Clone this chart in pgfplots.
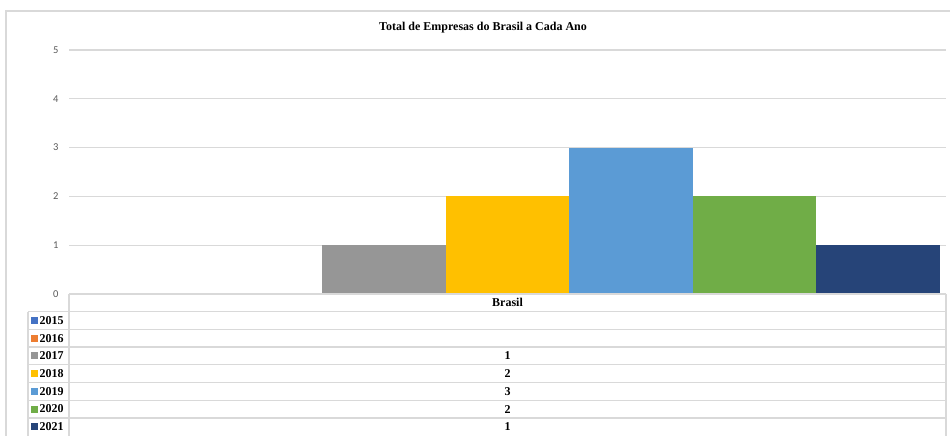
\documentclass[border=0pt]{standalone}
\usepackage{pgfplots}
\pgfplotsset{compat=1.18}
\usepackage{fontspec}
\setmainfont{Liberation Serif}
\newfontfamily\tickfont{Carlito}
\definecolor{gridgray}{HTML}{D9D9D9}
\definecolor{tickgray}{HTML}{595959}
\definecolor{cA}{HTML}{4472C4}
\definecolor{cB}{HTML}{ED7D31}
\definecolor{cC}{HTML}{969696}
\definecolor{cD}{HTML}{FFC000}
\definecolor{cE}{HTML}{5B9BD5}
\definecolor{cF}{HTML}{70AD47}
\definecolor{cG}{HTML}{264478}
\begin{document}
\begin{tikzpicture}
\useasboundingbox (0pt,0pt) rectangle (950pt,436pt);
% outer chart border
\draw[gridgray, line width=1.6pt] (6pt,0pt) -- (6pt,425pt) -- (950pt,425pt);
% title
\node[font=\bfseries\fontsize{12}{14}\selectfont] at (483pt,408pt) {Total de Empresas do Brasil a Cada Ano};
\begin{axis}[
  at={(69pt,142pt)}, anchor=south west,
  scale only axis, width=877pt, height=244pt,
  xmin=0.452, xmax=7.548, ymin=0, ymax=5,
  ytick={0,1,2,3,4,5}, xtick=\empty,
  /pgf/number format/assume math mode=true,
  ymajorgrids, grid style={gridgray, line width=1.2pt},
  axis line style={draw=none},
  major tick length=0pt,
  yticklabel style={font=\tickfont\fontsize{10.5}{12}\selectfont, text=tickgray, xshift=-7pt},
  ybar, bar width=1, bar shift=0pt,
  clip=false,
]
\addplot[fill=cA, draw=none] coordinates {(1,0)};
\addplot[fill=cB, draw=none] coordinates {(2,0)};
\addplot[fill=cC, draw=none] coordinates {(3,1)};
\addplot[fill=cD, draw=none] coordinates {(4,2)};
\addplot[fill=cE, draw=none] coordinates {(5,3)};
\addplot[fill=cF, draw=none] coordinates {(6,2)};
\addplot[fill=cG, draw=none] coordinates {(7,1)};
\end{axis}
% data table
\begin{scope}[gridgray, line width=1.3pt]
\draw (69pt,142pt) -- (946pt,142pt);
\foreach \yy in {124.3,106.6,88.9,71.2,53.5,35.8,18.1} {\draw (28pt,\yy pt) -- (946pt,\yy pt);}
\draw (69pt,142pt) -- (69pt,0pt);
\draw (946pt,142pt) -- (946pt,0pt);
\draw (28pt,124.3pt) -- (28pt,0pt);
\end{scope}
\node[font=\bfseries\fontsize{12}{14}\selectfont] at (507.5pt,133.2pt) {Brasil};
\foreach \lab/\col/\val [count=\i] in {2015/cA/,2016/cB/,2017/cC/1,2018/cD/2,2019/cE/3,2020/cF/2,2021/cG/1} {
  \pgfmathsetmacro{\yc}{124.3-17.7*\i+8.85}
  \fill[\col] (31pt,\yc pt-3.5pt) rectangle (38pt,\yc pt+3.5pt);
  \node[anchor=west, inner sep=0pt, font=\bfseries\fontsize{12}{14}\selectfont] at (39.5pt,\yc pt) {\lab};
  \node[font=\bfseries\fontsize{12}{14}\selectfont] at (507.5pt,\yc pt) {\val};
}
\end{tikzpicture}
\end{document}
